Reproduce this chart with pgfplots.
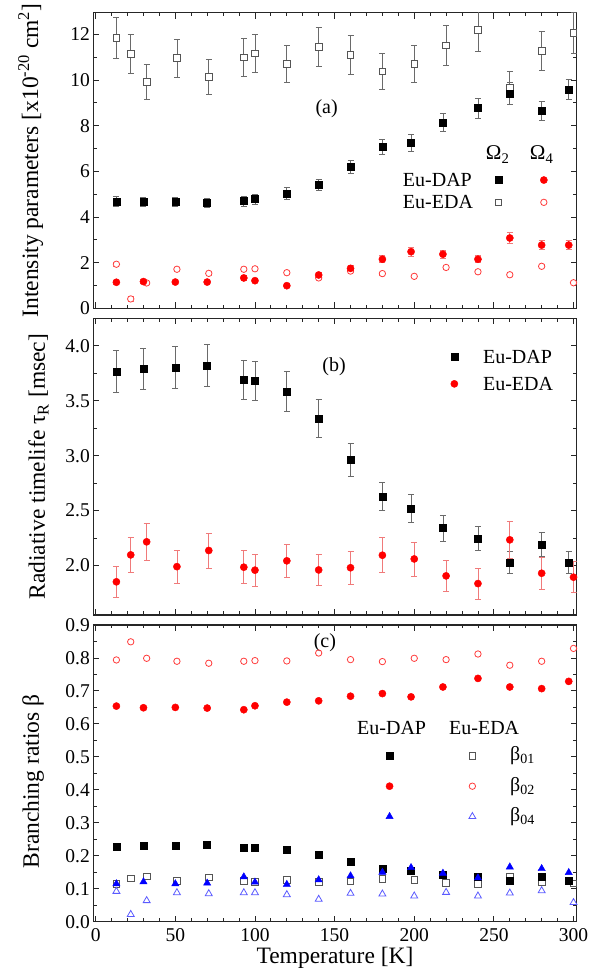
\documentclass[border=0pt]{standalone}
\usepackage{fontspec}
\setmainfont{Liberation Serif}
\usepackage{pgfplots}
\pgfplotsset{compat=1.18}
\usepackage{pgfplotstable}

\definecolor{ebgray}{HTML}{6A6A6A}
\definecolor{opengray}{HTML}{555555}
\definecolor{ebred}{HTML}{F07A7A}
\definecolor{openred}{HTML}{FF3B3B}
\definecolor{openblue}{HTML}{5A5AFF}

% Panel (a): intensity parameters
\pgfplotstableread{
T v e
13 4.69 0.22
30 4.66 0.21
50 4.66 0.21
70 4.61 0.21
93 4.70 0.22
100 4.79 0.22
120 5.04 0.25
140 5.41 0.25
160 6.20 0.29
180 7.07 0.35
198 7.25 0.36
218 8.15 0.40
240 8.77 0.43
260 9.40 0.48
280 8.64 0.43
297 9.59 0.45
}\aDAPtwo
\pgfplotstableread{
T v e
13 11.85 0.89
22 11.14 0.85
32 9.93 0.76
51 10.96 0.83
71 10.13 0.77
93 11.00 0.83
100 11.17 0.84
120 10.70 0.80
140 11.45 0.86
160 11.10 0.85
180 10.38 0.79
200 10.70 0.80
220 11.52 0.87
240 12.19 0.92
260 9.65 0.72
280 11.28 0.85
300 12.07 0.90
}\aEDAtwo
\pgfplotstableread{
T v e
13 1.14 0.08
30 1.17 0.08
50 1.15 0.08
70 1.15 0.08
93 1.33 0.10
100 1.21 0.09
120 0.99 0.08
140 1.46 0.11
160 1.75 0.13
180 2.15 0.16
198 2.48 0.19
218 2.37 0.18
240 2.15 0.16
260 3.08 0.23
280 2.77 0.21
297 2.77 0.21
}\aDAPfour
\pgfplotstableread{
T v e
13 1.93 0.08
22 0.41 0.10
32 1.11 0.06
51 1.71 0.07
71 1.53 0.07
93 1.71 0.07
100 1.73 0.07
120 1.56 0.07
140 1.33 0.06
160 1.63 0.07
180 1.52 0.06
200 1.40 0.06
220 1.79 0.07
240 1.60 0.07
260 1.47 0.06
280 1.84 0.07
300 1.12 0.05
}\aEDAfour

% Panel (b): radiative lifetime
\pgfplotstableread{
T v e
13 3.766 0.19
30 3.79 0.19
50 3.80 0.19
70 3.82 0.19
93 3.69 0.18
100 3.68 0.18
120 3.584 0.18
140 3.34 0.17
160 2.96 0.15
180 2.63 0.13
198 2.52 0.13
218 2.34 0.12
240 2.246 0.11
260 2.027 0.10
280 2.19 0.11
297 2.03 0.10
}\bDAP
\pgfplotstableread{
T v e
13 1.852 0.14
22 2.097 0.16
32 2.216 0.165
51 1.99 0.15
71 2.137 0.16
93 1.985 0.15
100 1.958 0.145
120 2.043 0.15
140 1.96 0.145
160 1.98 0.15
180 2.094 0.16
200 2.06 0.155
220 1.906 0.14
240 1.836 0.14
260 2.234 0.17
280 1.93 0.145
300 1.894 0.14
}\bEDA

% Panel (c): branching ratios
\pgfplotstableread{
T b01 b02 b04
13 0.228 0.654 0.115
30 0.231 0.649 0.121
50 0.231 0.650 0.115
70 0.233 0.648 0.117
93 0.225 0.643 0.136
100 0.225 0.655 0.120
120 0.219 0.666 0.113
140 0.204 0.670 0.127
160 0.182 0.684 0.139
180 0.161 0.692 0.150
198 0.154 0.682 0.164
218 0.144 0.712 0.147
240 0.137 0.738 0.133
260 0.123 0.712 0.166
280 0.136 0.707 0.161
297 0.125 0.729 0.149
}\cDAP
\pgfplotstableread{
T b01 b02 b04
13 0.115 0.794 0.092
22 0.131 0.849 0.022
32 0.138 0.799 0.064
51 0.123 0.790 0.088
71 0.134 0.784 0.085
93 0.124 0.790 0.088
100 0.120 0.792 0.088
120 0.127 0.791 0.082
140 0.120 0.815 0.068
160 0.122 0.795 0.086
180 0.130 0.789 0.084
200 0.127 0.799 0.078
220 0.118 0.795 0.089
240 0.114 0.812 0.078
260 0.138 0.778 0.087
280 0.120 0.790 0.094
300 0.116 0.829 0.058
}\cEDA

\pgfplotsset{
  panel/.style={
    scale only axis, width=483.4pt, xmin=-1.5, xmax=302,
    anchor=south west,
    tick align=inside, major tick length=6pt, minor tick length=3.5pt,
    tick style={black!85, line width=0.9pt},
    axis line style={black!85, line width=1.1pt},
    xtick={0,50,...,300}, minor x tick num=4,
    tick label style={font=\fontsize{19.5}{22}\selectfont},
    label style={font=\fontsize{23.5}{28}\selectfont},
    /pgf/number format/assume math mode=true,
    legend style={font=\fontsize{20}{24}\selectfont, draw=none, fill=none,
      inner sep=0pt, nodes={inner sep=0pt, text depth=0pt}, cells={anchor=west}},
    legend image code/.code={\draw[##1] plot coordinates {(0pt,0pt)};},
  },
  eb/.style={/pgfplots/error bars/y dir=both, /pgfplots/error bars/y explicit,
    /pgfplots/error bars/error bar style={color=#1, line width=0.8pt},
    /pgfplots/error bars/error mark options={rotate=90, color=#1, mark size=3pt, line width=0.8pt}},
}

\begin{document}
\begin{tikzpicture}
\useasboundingbox (0,0) rectangle (607pt,975pt);

% ---------------- (a)
\begin{axis}[panel, at={(93.3pt,666.7pt)}, height=295.6pt,
  ymin=0, ymax=12.95, ytick={0,2,...,12}, minor y tick num=1,
  xticklabels={},
  ylabel={Intensity parameters [x10\textsuperscript{-20} cm\textsuperscript{2}]},
  ylabel style={at={(axis description cs:-0.114,0.5)}, anchor=base},
  legend columns=3,
  legend style={at={(axis cs:192.8,5.13)}, anchor=west, row sep=9.1pt,
    /tikz/column 2/.style={column sep=22.1pt},
    /tikz/column 3/.style={column sep=37.2pt}},
]
\addplot[forget plot, only marks, mark=square*, mark size=3.3pt, opengray,
  mark options={fill=white, line width=0.8pt}, eb=ebgray]
  table[x=T, y=v, y error=e] {\aEDAtwo};
\addplot[forget plot, only marks, mark=*, mark size=3.2pt, openred,
  mark options={fill=white, line width=0.8pt}, eb=ebred]
  table[x=T, y=v, y error=e] {\aEDAfour};
\addplot[forget plot, only marks, mark=square*, mark size=3.5pt, black, eb=ebgray]
  table[x=T, y=v, y error=e] {\aDAPtwo};
\addplot[forget plot, only marks, mark=*, mark size=3.6pt, red, eb=ebred]
  table[x=T, y=v, y error=e] {\aDAPfour};

\addlegendimage{empty legend}\addlegendentry{Eu-DAP}
\addlegendimage{only marks, mark=square*, mark size=3.5pt, black}\addlegendentry{\mbox{}}
\addlegendimage{only marks, mark=*, mark size=3.6pt, red}\addlegendentry{\mbox{}}
\addlegendimage{empty legend}\addlegendentry{Eu-EDA}
\addlegendimage{only marks, mark=square, mark size=3.3pt, opengray, mark options={line width=0.8pt}}\addlegendentry{\mbox{}}
\addlegendimage{only marks, mark=o, mark size=3.2pt, openred, mark options={line width=0.8pt}}\addlegendentry{\mbox{}}

\node[font=\fontsize{20}{24}\selectfont] at (axis cs:145,8.73) {(a)};
\node[font=\fontsize{21}{24}\selectfont, anchor=base] at (axis cs:252.4,6.5) {Ω\textsubscript{2}};
\node[font=\fontsize{21}{24}\selectfont, anchor=base] at (axis cs:280,6.5) {Ω\textsubscript{4}};
\end{axis}

% ---------------- (b)
\begin{axis}[panel, at={(93.3pt,360pt)}, height=296.7pt,
  ymin=1.55, ymax=4.25, ytick={2,2.5,...,4}, minor y tick num=1,
  yticklabel={\pgfmathprintnumber[fixed,fixed zerofill,precision=1]{\tick}},
  xticklabels={},
  ylabel={Radiative timelife τ\textsubscript{R} [msec]},
  ylabel style={at={(axis description cs:-0.1003,0.5)}, anchor=base},
  legend style={at={(axis cs:222.8,3.775)}, anchor=west, row sep=13.5pt,
    /tikz/column 1/.style={column sep=25.1pt}},
]
\addplot[only marks, mark=square*, mark size=3.5pt, black, eb=ebgray]
  table[x=T, y=v, y error=e] {\bDAP};
\addlegendentry{Eu-DAP}
\addplot[only marks, mark=*, mark size=3.6pt, red, eb=ebred]
  table[x=T, y=v, y error=e] {\bEDA};
\addlegendentry{Eu-EDA}
\node[font=\fontsize{20}{24}\selectfont] at (axis cs:149.7,3.81) {(b)};
\end{axis}

% ---------------- (c)
\begin{axis}[panel, at={(93.3pt,53.3pt)}, height=296.7pt,
  ymin=0, ymax=0.9, ytick={0,0.1,...,0.9}, minor y tick num=1,
  yticklabel={\pgfmathprintnumber[fixed,fixed zerofill,precision=1]{\tick}},
  xticklabel style={yshift=-3pt},
  xlabel={Temperature [K]},
  xlabel style={at={(axis description cs:0.5,-0.140)}, anchor=base},
  ylabel={Branching ratios β},
  ylabel style={at={(axis description cs:-0.1127,0.4725)}, anchor=base},
  legend columns=3,
  legend style={at={(axis cs:182.1,0.411)}, anchor=west, row sep=12pt,
    nodes={text depth=},
    /tikz/column 1/.style={column sep=74.7pt},
    /tikz/column 3/.style={column sep=33.3pt}},
]
\addplot[forget plot, only marks, mark=square, mark size=3.3pt, opengray, mark options={line width=0.8pt}]
  table[x=T, y=b01] {\cEDA};
\addplot[forget plot, only marks, mark=o, mark size=3.2pt, openred, mark options={line width=0.8pt}]
  table[x=T, y=b02] {\cEDA};
\addplot[forget plot, only marks, mark=triangle, mark size=4pt, openblue, mark options={line width=0.8pt}]
  table[x=T, y=b04] {\cEDA};
\addplot[forget plot, only marks, mark=square*, mark size=3.5pt, black]
  table[x=T, y=b01] {\cDAP};
\addplot[forget plot, only marks, mark=*, mark size=3.6pt, red]
  table[x=T, y=b02] {\cDAP};
\addplot[forget plot, only marks, mark=triangle*, mark size=4.2pt, blue]
  table[x=T, y=b04] {\cDAP};

\addlegendimage{only marks, mark=square*, mark size=3.5pt, black}\addlegendentry{\mbox{}}
\addlegendimage{only marks, mark=square, mark size=3.3pt, opengray, mark options={line width=0.8pt}}\addlegendentry{\mbox{}}
\addlegendimage{empty legend}\addlegendentry{β\textsubscript{01}}
\addlegendimage{only marks, mark=*, mark size=3.6pt, red}\addlegendentry{\mbox{}}
\addlegendimage{only marks, mark=o, mark size=3.2pt, openred, mark options={line width=0.8pt}}\addlegendentry{\mbox{}}
\addlegendimage{empty legend}\addlegendentry{β\textsubscript{02}}
\addlegendimage{only marks, mark=triangle*, mark size=4.2pt, blue}\addlegendentry{\mbox{}}
\addlegendimage{only marks, mark=triangle, mark size=4pt, openblue, mark options={line width=0.8pt}}\addlegendentry{\mbox{}}
\addlegendimage{empty legend}\addlegendentry{β\textsubscript{04}}

\node[font=\fontsize{20}{24}\selectfont] at (axis cs:143.9,0.847) {(c)};
\node[font=\fontsize{20}{24}\selectfont] at (axis cs:185.8,0.5886) {Eu-DAP};
\node[font=\fontsize{20}{24}\selectfont] at (axis cs:243.9,0.5886) {Eu-EDA};
\end{axis}
\end{tikzpicture}
\end{document}
